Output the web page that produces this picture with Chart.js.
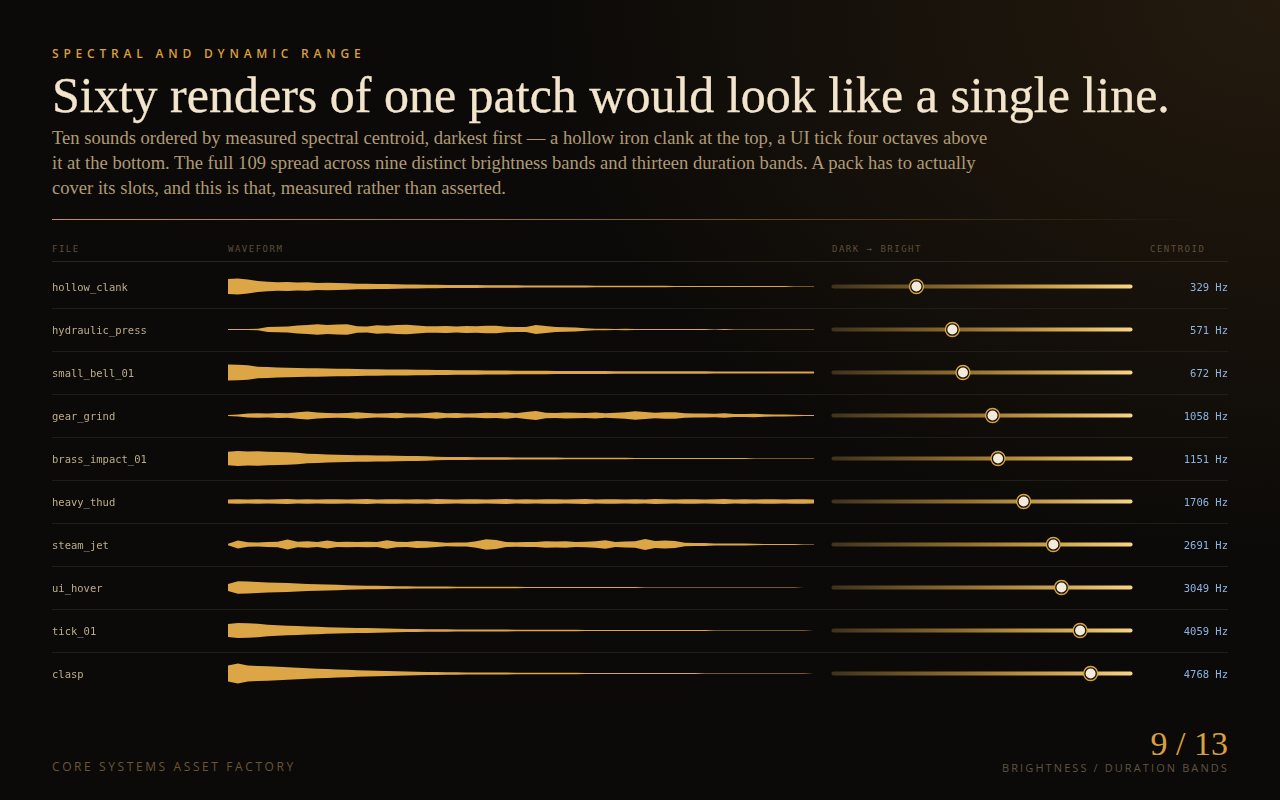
<!DOCTYPE html>
<html>
<head>
<meta charset="utf-8">
<title>Spectral and dynamic range</title>
<script src="https://cdn.jsdelivr.net/npm/chart.js@4.4.1/dist/chart.umd.min.js"></script>
<style>
  html, body { margin: 0; padding: 0; }
  body {
    width: 1280px; height: 800px; overflow: hidden; position: relative;
    background: radial-gradient(ellipse 80% 95% at 100% 0%, rgba(52,37,18,0.6), rgba(12,10,8,0) 72%), #0c0a08;
    font-family: "Open Sans", sans-serif;
  }
  .abs { position: absolute; white-space: nowrap; }
  .eyebrow { left: 52px; top: 46px; font-size: 12px; line-height: 16px; font-weight: 600; letter-spacing: 4.8px; color: #d89f3b; }
  h1 { margin: 0; left: 52px; top: 70px; font-family: "Liberation Serif", serif; font-weight: 400; font-size: 50px; line-height: 50px; color: #f3e5cc; -webkit-text-stroke: 0.3px #f3e5cc; }
  .lede { margin: 0; left: 52px; top: 125px; font-family: "Liberation Serif", serif; font-size: 18.6px; line-height: 25px; color: #b09a75; }
  .rule { left: 52px; top: 219px; width: 1150px; height: 1px; background: linear-gradient(to right, #c8913a 0%, rgba(200,145,58,0.75) 40%, rgba(200,145,58,0.2) 82%, rgba(200,145,58,0) 100%); }
  .colhead { top: 243px; font-family: "DejaVu Sans Mono", monospace; font-size: 9px; line-height: 12px; letter-spacing: 1.5px; color: #5c4e3a; }
  .headline { left: 52px; top: 261px; width: 1176px; height: 1px; background: #2c2519; }
  #waveBox { left: 52px; top: 265px; width: 762px; height: 430px; }
  #sliderBox { left: 814px; top: 265px; width: 414px; height: 430px; }
  .foot-left { left: 52px; top: 759px; font-size: 12px; line-height: 16px; letter-spacing: 2.6px; color: #6a5637; }
  .pager { right: 52px; top: 727px; font-family: "Liberation Serif", serif; font-size: 34px; line-height: 34px; color: #d8a040; }
  .foot-right { right: 51px; top: 761px; font-size: 11px; line-height: 14px; letter-spacing: 2.1px; color: #5f5443; }
</style>
</head>
<body>
<div class="abs eyebrow">SPECTRAL AND DYNAMIC RANGE</div>
<h1 class="abs">Sixty renders of one patch would look like a single line.</h1>
<p class="abs lede">Ten sounds ordered by measured spectral centroid, darkest first — a hollow iron clank at the top, a UI tick four octaves above<br>it at the bottom. The full 109 spread across nine distinct brightness bands and thirteen duration bands. A pack has to actually<br>cover its slots, and this is that, measured rather than asserted.</p>
<div class="abs rule"></div>

<div class="abs colhead" style="left:52px">FILE</div>
<div class="abs colhead" style="left:228px">WAVEFORM</div>
<div class="abs colhead" style="left:832px">DARK → BRIGHT</div>
<div class="abs colhead" style="left:1150px">CENTROID</div>
<div class="abs headline"></div>

<div class="abs" id="waveBox"><canvas id="waveChart"></canvas></div>
<div class="abs" id="sliderBox"><canvas id="sliderChart"></canvas></div>

<div class="abs foot-left">CORE SYSTEMS ASSET FACTORY</div>
<div class="abs pager">9 / 13</div>
<div class="abs foot-right">BRIGHTNESS / DURATION BANDS</div>

<script>
// rows, darkest first
const files = ['hollow_clank', 'hydraulic_press', 'small_bell_01', 'gear_grind', 'brass_impact_01',
               'heavy_thud', 'steam_jet', 'ui_hover', 'tick_01', 'clasp'];
const centroidHz = [329, 571, 672, 1058, 1151, 1706, 2691, 3049, 4059, 4768];

// waveform envelopes, 60 samples each (1.0 ~ 8px half height)
const hollowClank = [0.94,1.00,0.88,0.69,0.60,0.53,0.56,0.50,0.54,0.45,
  0.48,0.44,0.40,0.35,0.33,0.30,0.31,0.28,0.25,0.26,
  0.23,0.21,0.20,0.19,0.20,0.18,0.16,0.17,0.15,0.15,
  0.14,0.14,0.13,0.12,0.12,0.11,0.11,0.10,0.10,0.09,
  0.09,0.09,0.08,0.08,0.08,0.07,0.07,0.07,0.06,0.06,
  0.06,0.06,0.05,0.05,0.05,0.05,0.05,0.04,0.04,0.04];
const hydraulicPress = [0.06,0.07,0.07,0.10,0.30,0.33,0.36,0.50,0.56,0.66,
  0.55,0.62,0.66,0.40,0.38,0.52,0.48,0.55,0.60,0.50,
  0.42,0.40,0.44,0.38,0.45,0.40,0.46,0.48,0.34,0.32,
  0.30,0.55,0.45,0.30,0.28,0.25,0.15,0.08,0.10,0.07,
  0.08,0.06,0.06,0.05,0.06,0.05,0.05,0.05,0.05,0.04,
  0.05,0.04,0.04,0.04,0.04,0.04,0.04,0.04,0.04,0.04];
const smallBell = [1.00,0.98,0.92,0.72,0.70,0.62,0.58,0.56,0.54,0.52,
  0.50,0.48,0.47,0.45,0.42,0.40,0.39,0.37,0.36,0.34,
  0.33,0.31,0.30,0.29,0.28,0.27,0.26,0.25,0.24,0.23,
  0.22,0.22,0.21,0.20,0.20,0.19,0.19,0.18,0.18,0.17,
  0.17,0.17,0.16,0.16,0.16,0.15,0.15,0.15,0.15,0.14,
  0.14,0.14,0.14,0.14,0.13,0.13,0.13,0.13,0.13,0.13];
const gearGrind = [0.06,0.12,0.26,0.28,0.25,0.32,0.28,0.40,0.50,0.38,
  0.30,0.28,0.32,0.42,0.30,0.26,0.28,0.34,0.25,0.24,
  0.30,0.42,0.28,0.32,0.26,0.28,0.34,0.30,0.40,0.28,
  0.45,0.55,0.35,0.30,0.38,0.34,0.30,0.36,0.28,0.34,
  0.42,0.52,0.45,0.35,0.42,0.40,0.28,0.25,0.24,0.22,
  0.28,0.20,0.18,0.22,0.16,0.14,0.12,0.10,0.07,0.05];
const brassImpact = [0.85,0.95,0.88,0.92,0.85,0.82,0.78,0.72,0.58,0.55,
  0.50,0.47,0.45,0.42,0.40,0.37,0.36,0.33,0.31,0.30,
  0.27,0.22,0.20,0.19,0.18,0.17,0.16,0.15,0.15,0.14,
  0.13,0.13,0.12,0.11,0.10,0.10,0.09,0.09,0.08,0.08,
  0.08,0.07,0.07,0.07,0.06,0.06,0.06,0.06,0.05,0.05,
  0.05,0.05,0.05,0.04,0.04,0.04,0.04,0.04,0.03,0.03];
const heavyThud = [0.26,0.28,0.25,0.29,0.26,0.27,0.30,0.25,0.28,0.26,
  0.29,0.27,0.25,0.28,0.30,0.26,0.27,0.29,0.25,0.28,
  0.26,0.30,0.27,0.25,0.28,0.29,0.26,0.27,0.30,0.25,
  0.28,0.26,0.29,0.27,0.25,0.28,0.30,0.26,0.27,0.29,
  0.25,0.28,0.26,0.30,0.27,0.25,0.28,0.29,0.26,0.27,
  0.30,0.25,0.28,0.26,0.29,0.27,0.25,0.28,0.27,0.26];
const steamJet = [0.10,0.50,0.28,0.26,0.30,0.34,0.62,0.35,0.40,0.32,
  0.50,0.30,0.34,0.30,0.35,0.32,0.52,0.35,0.30,0.45,
  0.40,0.30,0.22,0.24,0.25,0.40,0.65,0.55,0.30,0.28,
  0.32,0.30,0.40,0.38,0.42,0.30,0.35,0.42,0.52,0.32,
  0.36,0.42,0.68,0.45,0.50,0.45,0.22,0.18,0.20,0.14,
  0.13,0.12,0.12,0.10,0.07,0.06,0.05,0.05,0.04,0.04];
const uiHover = [0.45,0.78,0.75,0.70,0.62,0.58,0.55,0.50,0.45,0.42,
  0.38,0.33,0.28,0.25,0.23,0.21,0.19,0.17,0.15,0.14,
  0.13,0.12,0.11,0.10,0.10,0.09,0.09,0.08,0.08,0.08,
  0.07,0.07,0.07,0.06,0.06,0.06,0.06,0.05,0.05,0.05,
  0.05,0.05,0.04,0.04,0.04,0.04,0.04,0.04,0.04,0.03,
  0.03,0.03,0.03,0.03,0.03,0.03,0.03,0.03,0,0];
const tick01 = [0.80,0.95,0.90,0.85,0.72,0.66,0.60,0.55,0.50,0.46,
  0.42,0.38,0.35,0.32,0.30,0.27,0.24,0.22,0.20,0.18,
  0.17,0.16,0.15,0.14,0.13,0.12,0.12,0.11,0.11,0.10,
  0.10,0.09,0.09,0.08,0.08,0.08,0.07,0.07,0.07,0.06,
  0.06,0.06,0.06,0.05,0.05,0.05,0.05,0.05,0.05,0.04,
  0.04,0.04,0.04,0.04,0.04,0.04,0.04,0.04,0.04,0];
const clasp = [1.00,1.25,1.00,0.95,0.90,0.85,0.78,0.72,0.66,0.60,
  0.55,0.50,0.46,0.42,0.38,0.35,0.32,0.28,0.25,0.22,
  0.20,0.18,0.16,0.15,0.14,0.13,0.12,0.12,0.11,0.10,
  0.10,0.09,0.09,0.08,0.08,0.08,0.07,0.07,0.07,0.06,
  0.06,0.06,0.06,0.05,0.05,0.05,0.05,0.05,0.04,0.04,
  0.04,0.04,0.04,0.04,0.04,0.04,0.04,0.04,0.04,0];

const waveforms = [hollowClank, hydraulicPress, smallBell, gearGrind, brassImpact,
                   heavyThud, steamJet, uiHover, tick01, clasp];

const GOLD = '#dca546';
const AMP = 0.186;          // one envelope unit in row heights
const SEP = '#221d16';
const MONO = 'DejaVu Sans Mono';

// row ticks: integer = separator line, half = row label
const rowTicks = [];
for (let i = 0; i <= files.length * 2; i++) rowTicks.push(i / 2);

const sepColor = c => (c.tick && Number.isInteger(c.tick.value) && c.tick.value > 0) ? SEP : 'rgba(0,0,0,0)';

function rowScale(position, width, labelFn, color, onArea) {
  return {
    type: 'linear', position: position, min: 0, max: files.length, reverse: true,
    afterBuildTicks: s => { s.ticks = rowTicks.map(v => ({ value: v })); },
    afterFit: s => { s.width = width; s.paddingTop = 0; s.paddingBottom = 0; },
    border: { display: false },
    grid: { color: sepColor, tickColor: sepColor, tickLength: width, lineWidth: 1, drawOnChartArea: onArea },
    ticks: {
      autoSkip: false, padding: 0, crossAlign: 'far', color: color, labelOffset: 1.5,
      font: { family: MONO, size: 10.5 },
      callback: v => Number.isInteger(v) ? '' : labelFn(Math.floor(v))
    }
  };
}

// Waveforms: upper and lower edge per row, filled between
const waveSets = [];
waveforms.forEach((wf, i) => {
  const mid = i + 0.5;
  waveSets.push({
    data: wf.map((a, j) => ({ x: j, y: mid - a * AMP })),
    borderColor: 'rgba(0,0,0,0)', borderWidth: 0, pointRadius: 0, fill: false, tension: 0
  });
  waveSets.push({
    data: wf.map((a, j) => ({ x: j, y: mid + a * AMP })),
    borderColor: 'rgba(0,0,0,0)', borderWidth: 0, pointRadius: 0, fill: '-1',
    backgroundColor: GOLD, tension: 0
  });
});

new Chart(document.getElementById('waveChart'), {
  type: 'line',
  data: { datasets: waveSets },
  options: {
    responsive: true, maintainAspectRatio: false, animation: false, events: [],
    layout: { padding: 0, autoPadding: false },
    plugins: { legend: { display: false }, tooltip: { enabled: false } },
    scales: {
      x: { type: 'linear', min: 0, max: hollowClank.length - 1, display: false },
      y: rowScale('left', 176, i => files[i], '#bcab8c', true)
    }
  }
});

// Sliders: log centroid track with a knob
function trackGradient(c) {
  const { ctx, chartArea } = c.chart;
  if (!chartArea) return '#8a6a2c';
  const g = ctx.createLinearGradient(chartArea.left, 0, chartArea.right, 0);
  g.addColorStop(0, '#3f321d');
  g.addColorStop(0.45, '#93702f');
  g.addColorStop(0.75, '#cfa550');
  g.addColorStop(1, '#f7d584');
  return g;
}

const sliderSets = [];
files.forEach((f, i) => {
  sliderSets.push({
    data: [{ x: 92, y: i + 0.5 }, { x: 8800, y: i + 0.5 }],
    showLine: true, borderColor: trackGradient, borderWidth: 4, borderCapStyle: 'round',
    pointRadius: 0, clip: false, order: 3
  });
});
sliderSets.push({
  data: centroidHz.map((hz, i) => ({ x: hz, y: i + 0.5 })),
  pointRadius: 7, pointBackgroundColor: '#15100a', pointBorderColor: '#d7a442', pointBorderWidth: 1.4,
  clip: false, order: 2
});
sliderSets.push({
  data: centroidHz.map((hz, i) => ({ x: hz, y: i + 0.5 })),
  pointRadius: 5, pointBackgroundColor: '#f3eadb', pointBorderWidth: 0,
  clip: false, order: 1
});

new Chart(document.getElementById('sliderChart'), {
  type: 'scatter',
  data: { datasets: sliderSets },
  options: {
    responsive: true, maintainAspectRatio: false, animation: false, events: [],
    layout: { padding: 0, autoPadding: false },
    plugins: { legend: { display: false }, tooltip: { enabled: false } },
    scales: {
      x: { type: 'logarithmic', min: 90, max: 9000, display: false },
      y: rowScale('left', 18, () => '', '#000', true),
      yHz: rowScale('right', 96, i => centroidHz[i] + ' Hz', '#8cb3e0', false)
    }
  }
});
</script>
</body>
</html>
